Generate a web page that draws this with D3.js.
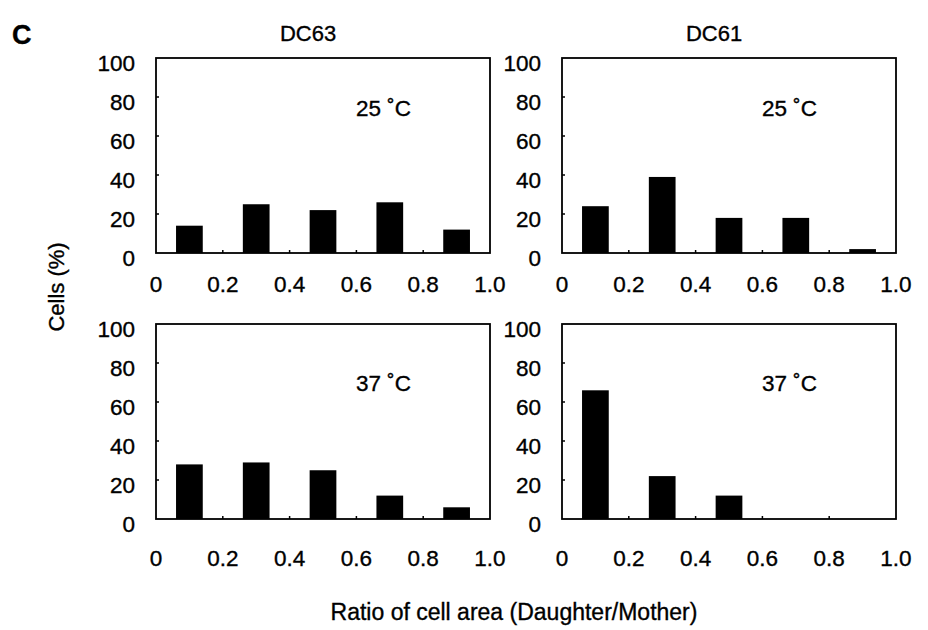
<!DOCTYPE html>
<html>
<head>
<meta charset="utf-8">
<script src="https://cdn.jsdelivr.net/npm/d3@7"></script>
<style>
  body { margin: 0; background: #fff; }
  text { font-family: "Liberation Sans", Arial, sans-serif; fill: #000; stroke: #000; stroke-width: 0.35px; }
</style>
</head>
<body>
<div class="chart_area"></div>
<script>
// bin centres (ratio of cell area) and % of cells in each bin
var bins = [0.1, 0.3, 0.5, 0.7, 0.9];
var dc63_25 = [14, 25, 22, 26, 12];
var dc61_25 = [24, 39, 18, 18, 2];
var dc63_37 = [28, 29, 25, 12, 6];
var dc61_37 = [66, 22, 12, 0, 0];

var strains = ["DC63", "DC61"];
var temps = ["25 ˚C", "37 ˚C"];
var xTicks = [0, 0.2, 0.4, 0.6, 0.8, 1.0];
var yTicks = [0, 20, 40, 60, 80, 100];

var width = 928, height = 630;
var colLeft = [156, 562];
var rowTop = [58, 324];
var panelW = 334, panelH = 195;
var xLabelOff = [31, 39];
var noteOff = [57, 66];

var panels = [
  { col: 0, row: 0, values: dc63_25 },
  { col: 1, row: 0, values: dc61_25 },
  { col: 0, row: 1, values: dc63_37 },
  { col: 1, row: 1, values: dc61_37 }
];

var svg = d3.select(".chart_area").append("svg")
  .attr("width", width)
  .attr("height", height);

var x = d3.scaleLinear().domain([0, 1]).range([0, panelW]);
var y = d3.scaleLinear().domain([0, 100]).range([panelH, 0]);

panels.forEach(function (p) {
  var g = svg.append("g")
    .attr("transform", "translate(" + colLeft[p.col] + "," + rowTop[p.row] + ")");

  g.selectAll("rect.bar")
    .data(bins.map(function (b, i) { return { b: b, v: p.values[i] }; }))
    .enter().append("rect")
    .attr("class", "bar")
    .attr("x", function (d) { return x(d.b - 0.04); })
    .attr("width", x(0.08) - x(0))
    .attr("y", function (d) { return y(d.v); })
    .attr("height", function (d) { return y(0) - y(d.v); })
    .style("fill", "#000");

  // small inward ticks
  g.selectAll("line.yt")
    .data(yTicks.slice(1, 5))
    .enter().append("line")
    .attr("x1", 0).attr("x2", 3)
    .attr("y1", y).attr("y2", y)
    .style("stroke", "#000").style("stroke-width", 1.5);

  g.selectAll("line.xt")
    .data(xTicks.slice(1, 5))
    .enter().append("line")
    .attr("x1", x).attr("x2", x)
    .attr("y1", panelH).attr("y2", panelH - 3)
    .style("stroke", "#000").style("stroke-width", 1.5);

  g.append("rect")
    .attr("width", panelW)
    .attr("height", panelH)
    .style("fill", "none")
    .style("stroke", "#000")
    .style("stroke-width", 1.8);

  g.selectAll("text.ylab")
    .data(yTicks)
    .enter().append("text")
    .attr("x", -21)
    .attr("y", function (d) { return y(d) + 12.5; })
    .style("text-anchor", "end")
    .style("font-size", "22.5px")
    .text(function (d) { return d; });

  g.selectAll("text.xlab")
    .data(xTicks)
    .enter().append("text")
    .attr("x", x)
    .attr("y", panelH + xLabelOff[p.row] + 8)
    .style("text-anchor", "middle")
    .style("font-size", "22.5px")
    .text(function (d) { return d == 0 ? "0" : d.toFixed(1); });

  g.append("text")
    .attr("x", 200)
    .attr("y", noteOff[p.row] + 1)
    .style("font-size", "22.5px")
    .text(temps[p.row]);

  if (p.row == 0) {
    g.append("text")
      .attr("x", panelW / 2 - 15)
      .attr("y", -17)
      .style("text-anchor", "middle")
      .style("font-size", "22px")
      .text(strains[p.col]);
  }
});

svg.append("text")
  .attr("x", 12)
  .attr("y", 44)
  .style("font-size", "27px")
  .style("font-weight", "bold")
  .text("C");

svg.append("text")
  .attr("transform", "translate(64,287) rotate(-90)")
  .style("text-anchor", "middle")
  .style("font-size", "22px")
  .text("Cells (%)");

svg.append("text")
  .attr("x", 514)
  .attr("y", 620)
  .style("text-anchor", "middle")
  .style("font-size", "23px")
  .text("Ratio of cell area (Daughter/Mother)");
</script>
</body>
</html>
